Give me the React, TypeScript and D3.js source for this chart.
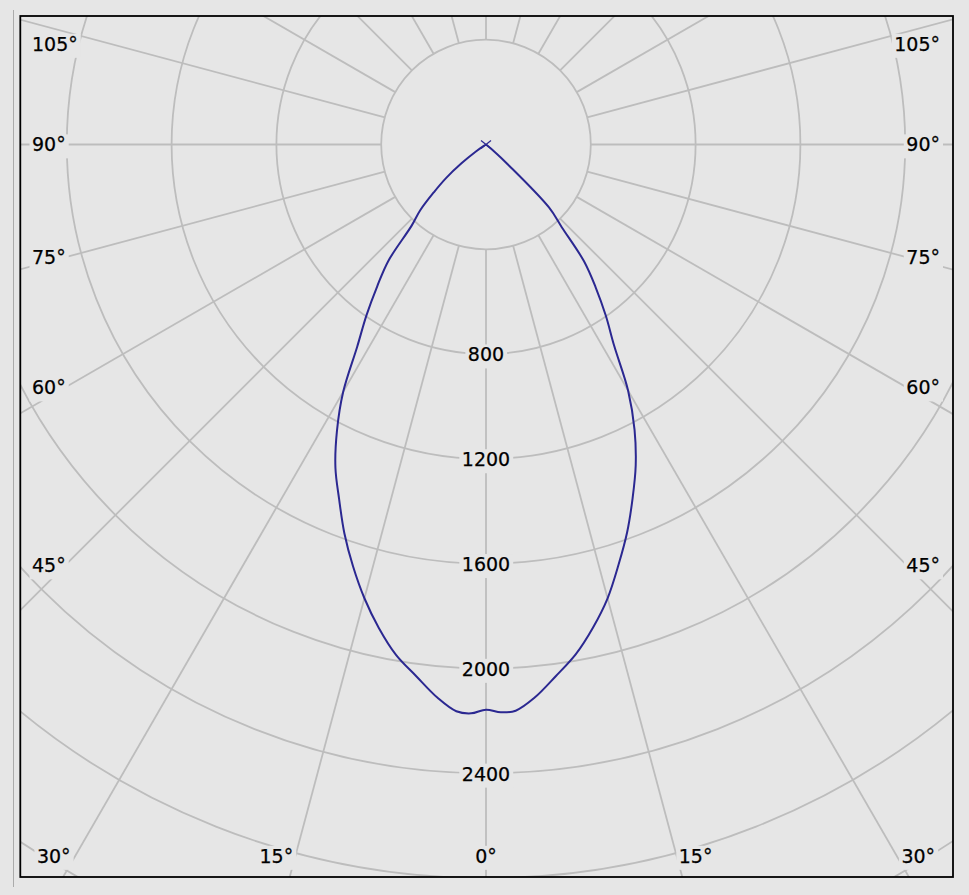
import React, { useEffect, useRef } from 'react';
import * as d3 from 'd3';

// Vertical angle (gamma, degrees from nadir) and luminous intensity (cd)
const gammaAngles = [0, 1.5, 3, 5, 7.5, 10, 12.5, 15, 17.5, 20, 22.5, 25, 27.5, 30, 32.5, 35, 37.5, 40, 42.5, 45, 47.5, 50, 52.5, 55, 57.5, 60, 70, 80, 90];
const rightCandela = [2157, 2168, 2164, 2120, 2046, 1975, 1888, 1793, 1682, 1575, 1462, 1352, 1228, 1085, 910, 797, 688, 582, 428, 340, 120, 30, 0, 0, 0, 0, 0, 0, 0];
const leftCandela = [2157, 2172, 2166, 2120, 2046, 1978, 1890, 1793, 1688, 1580, 1465, 1360, 1232, 1090, 915, 795, 682, 580, 420, 355, 270, 198, 118, 50, 10, 0, 0, 0, 0];

const ringValues = [400, 800, 1200, 1600, 2000, 2400, 2800, 3200, 3600, 4000];
const ringLabels = [800, 1200, 1600, 2000, 2400];
const spokeAngles = [0, 15, 30, 45, 60, 75, 90, 105, 120, 135, 150, 165, 180, 195, 210, 225, 240, 255, 270, 285, 300, 315, 330, 345];
const angleLabels = [0, 15, 30, 45, 60, 75, 90, 105];

const W = 969;
const H = 895;
const FRAME = { x0: 20.3, y0: 16, x1: 953, y1: 877 };
const CX = 486;
const CY = 144.5;
const BG = '#e6e6e6';
const GRID = '#bdbdbd';
const CURVE = '#2b2891';
const FONT = '"DejaVu Sans", Verdana, sans-serif';
const FS = 19;

export default function App() {
  const ref = useRef<SVGSVGElement>(null);

  useEffect(() => {
    const svg = d3.select(ref.current);
    svg.selectAll('*').remove();

    const r = d3.scaleLinear().domain([0, 400]).range([0, 104.8]);
    const rad = (d: number) => (d * Math.PI) / 180;

    svg.append('rect').attr('width', W).attr('height', H).attr('fill', BG);
    svg.append('line').attr('x1', 13.5).attr('x2', 13.5).attr('y1', 10).attr('y2', 887)
      .attr('stroke', '#ababab').attr('stroke-width', 1);

    const defs = svg.append('defs');
    defs.append('clipPath').attr('id', 'plotclip').append('rect')
      .attr('x', FRAME.x0).attr('y', FRAME.y0)
      .attr('width', FRAME.x1 - FRAME.x0).attr('height', FRAME.y1 - FRAME.y0);

    const grid = svg.append('g').attr('clip-path', 'url(#plotclip)');
    // rings
    grid.selectAll('circle.ring').data(ringValues).join('circle')
      .attr('class', 'ring')
      .attr('cx', CX).attr('cy', CY).attr('r', (d) => r(d))
      .attr('fill', 'none').attr('stroke', GRID).attr('stroke-width', 1.8);
    // spokes (angle measured from nadir, screen y downwards)
    const rIn = r(ringValues[0]);
    const rOut = 1400;
    grid.selectAll('line.spoke').data(spokeAngles).join('line')
      .attr('class', 'spoke')
      .attr('x1', (d) => CX + rIn * Math.sin(rad(d)))
      .attr('y1', (d) => CY + rIn * Math.cos(rad(d)))
      .attr('x2', (d) => CX + rOut * Math.sin(rad(d)))
      .attr('y2', (d) => CY + rOut * Math.cos(rad(d)))
      .attr('stroke', GRID).attr('stroke-width', 1.8);

    const labelLayer = svg.append('g');
    const addLabel = (txt: string, x: number, y: number, anchor: string, padL = 2.5, padR = 3) => {
      const g = labelLayer.append('g');
      const bg = g.append('rect').attr('fill', BG);
      const t = g.append('text').attr('x', x).attr('y', y).attr('dy', '0.36em')
        .attr('text-anchor', anchor).attr('font-family', FONT).attr('font-size', FS)
        .attr('fill', '#000').attr('stroke', '#000').attr('stroke-width', 0.25).text(txt);
      const bb = (t.node() as SVGTextElement).getBBox();
      bg.attr('x', bb.x - padL).attr('y', bb.y + 1).attr('width', bb.width + padL + padR).attr('height', bb.height + 2);
    };

    // ring value labels on the nadir axis
    ringLabels.forEach((v) => addLabel(String(v), CX, CY + r(v) + 0.5, 'middle'));

    // angle labels
    const innerL = 65;
    const innerB = 864;
    const anglePos = (deg: number, side: number) => {
      if (deg === 0) return { x: CX, y: 856, anchor: 'middle' };
      const th = rad(deg);
      const t = (CX - innerL) / Math.sin(th);
      let y = CY + t * Math.cos(th);
      if (y <= innerB) {
        y = Math.max(y, 44);
        return { x: side < 0 ? 32 : 940, y, anchor: side < 0 ? 'start' : 'end' };
      }
      const t2 = (innerB - CY) / Math.cos(th);
      return { x: CX + side * t2 * Math.sin(th), y: 856, anchor: side < 0 ? 'end' : 'start' };
    };
    angleLabels.forEach((deg) => {
      const sides = deg === 0 ? [0] : [-1, 1];
      sides.forEach((s) => {
        const p = anglePos(deg, s);
        addLabel(`${deg}°`, p.x, p.y, p.anchor);
      });
    });

    // intensity curve: left half (C180) from 90° down to 0°, then right half (C0) from 0° to 90°
    type Pt = { a: number; v: number };
    const pts: Pt[] = [];
    for (let i = gammaAngles.length - 1; i >= 1; i--) {
      pts.push({ a: Math.PI + rad(gammaAngles[i]), v: leftCandela[i] });
    }
    pts.push({ a: Math.PI, v: (leftCandela[0] + rightCandela[0]) / 2 });
    for (let i = 1; i < gammaAngles.length; i++) {
      pts.push({ a: Math.PI - rad(gammaAngles[i]), v: rightCandela[i] });
    }
    const line = d3.lineRadial<Pt>()
      .angle((d) => d.a)
      .radius((d) => r(d.v))
      .curve(d3.curveCatmullRom.alpha(0.5));
    svg.append('path')
      .attr('transform', `translate(${CX},${CY})`)
      .attr('d', line(pts) as string)
      .attr('fill', 'none').attr('stroke', CURVE).attr('stroke-width', 2)
      .attr('stroke-linejoin', 'round');

    // centre marker
    const m = svg.append('g').attr('stroke', CURVE).attr('stroke-width', 1.2);
    m.append('line').attr('x1', CX - 5).attr('y1', CY - 4).attr('x2', CX + 5).attr('y2', CY + 4);
    m.append('line').attr('x1', CX - 5).attr('y1', CY + 4).attr('x2', CX + 5).attr('y2', CY - 4);

    // frame
    svg.append('rect')
      .attr('x', FRAME.x0).attr('y', FRAME.y0)
      .attr('width', FRAME.x1 - FRAME.x0).attr('height', FRAME.y1 - FRAME.y0)
      .attr('fill', 'none').attr('stroke', '#000').attr('stroke-width', 1.8);
  }, []);

  return (
    <svg
      ref={ref}
      width={W}
      height={H}
      style={{ position: 'absolute', left: 0, top: 0, display: 'block' }}
    />
  );
}
